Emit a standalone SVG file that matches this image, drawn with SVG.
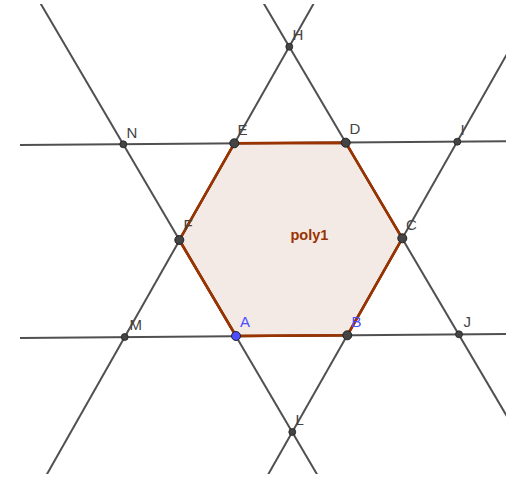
<svg xmlns="http://www.w3.org/2000/svg" width="506" height="477" viewBox="0 0 506 477">
<defs>
<clipPath id="view"><rect x="20" y="4" width="486" height="470"/></clipPath>
<style>
.ln{stroke:#505050;stroke-width:2;fill:none;stroke-linecap:butt}
.hex{fill:#f4eae5;stroke:#993300;stroke-width:2.5;stroke-linejoin:round}
.pt{fill:#444;stroke:#222;stroke-width:1}
.sp{fill:#444;stroke:#222;stroke-width:0.8}
.ap{fill:#4d4dff;stroke:#222;stroke-width:1}
.lb{font-family:"Liberation Sans",Arial,sans-serif;font-size:15px;fill:#444}
.lbb{font-family:"Liberation Sans",Arial,sans-serif;font-size:15px;fill:#4d4dff}
.pl{font-family:"Liberation Sans",Arial,sans-serif;font-size:14.5px;font-weight:bold;fill:#993300}
</style>
</defs>
<rect width="506" height="477" fill="#fff"/>
<g id="poly1">
<polygon class="hex" points="236,336 347.3,335.3 402.3,238.3 345.7,142.7 234.3,143.3 179.3,240"/>
<text class="pl" x="290.5" y="239.5">poly1</text>
</g>
<g id="connectors" clip-path="url(#view)">
<line class="ln" x1="20" y1="145.1" x2="506" y2="141.3"/>
<line class="ln" x1="20" y1="337.9" x2="506" y2="333.9"/>
<line class="ln" x1="46.5" y1="475" x2="314" y2="3"/>
<line class="ln" x1="263.5" y1="3" x2="548" y2="486"/>
<line class="ln" x1="40.3" y1="3" x2="318" y2="476"/>
<line class="ln" x1="536" y1="3" x2="267.3" y2="476"/>
</g>
<g id="polyEdges">
<polyline fill="none" stroke="#993300" stroke-width="2.5" stroke-linejoin="round" points="236,336 347.3,335.3 402.3,238.3 345.7,142.7 234.3,143.3 179.3,240 236,336"/>
</g>
<g id="H"><circle class="sp" cx="289.3" cy="46.7" r="3.5"/><text class="lb" x="292.5" y="40">H</text></g>
<g id="N"><circle class="sp" cx="123.3" cy="144.3" r="3.5"/><text class="lb" x="126.5" y="137.5">N</text></g>
<g id="I"><circle class="sp" cx="457.3" cy="141.7" r="3.5"/><text class="lb" x="460.5" y="135">I</text></g>
<g id="M"><circle class="sp" cx="124.7" cy="337" r="3.5"/><text class="lb" x="129.5" y="329.5">M</text></g>
<g id="J"><circle class="sp" cx="459" cy="334.3" r="3.5"/><text class="lb" x="463.5" y="326.5">J</text></g>
<g id="L"><circle class="sp" cx="292.3" cy="432" r="3.5"/><text class="lb" x="295.5" y="424.5">L</text></g>
<g id="E"><circle class="pt" cx="234.3" cy="143.3" r="4.5"/><text class="lb" x="237.5" y="134.5">E</text></g>
<g id="D"><circle class="pt" cx="345.7" cy="142.7" r="4.5"/><text class="lb" x="349.5" y="134">D</text></g>
<g id="C"><circle class="pt" cx="402.3" cy="238.3" r="4.5"/><text class="lb" x="406" y="230">C</text></g>
<g id="F"><circle class="pt" cx="179.3" cy="240" r="4.5"/><text class="lb" x="183.5" y="230">F</text></g>
<g id="B"><text class="lbb" x="351.5" y="326.5">B</text><circle class="pt" cx="347.3" cy="335.3" r="4.5"/></g>
<g id="A"><circle class="ap" cx="236" cy="336" r="4.5"/><text class="lbb" x="240" y="326.5">A</text></g>
</svg>
